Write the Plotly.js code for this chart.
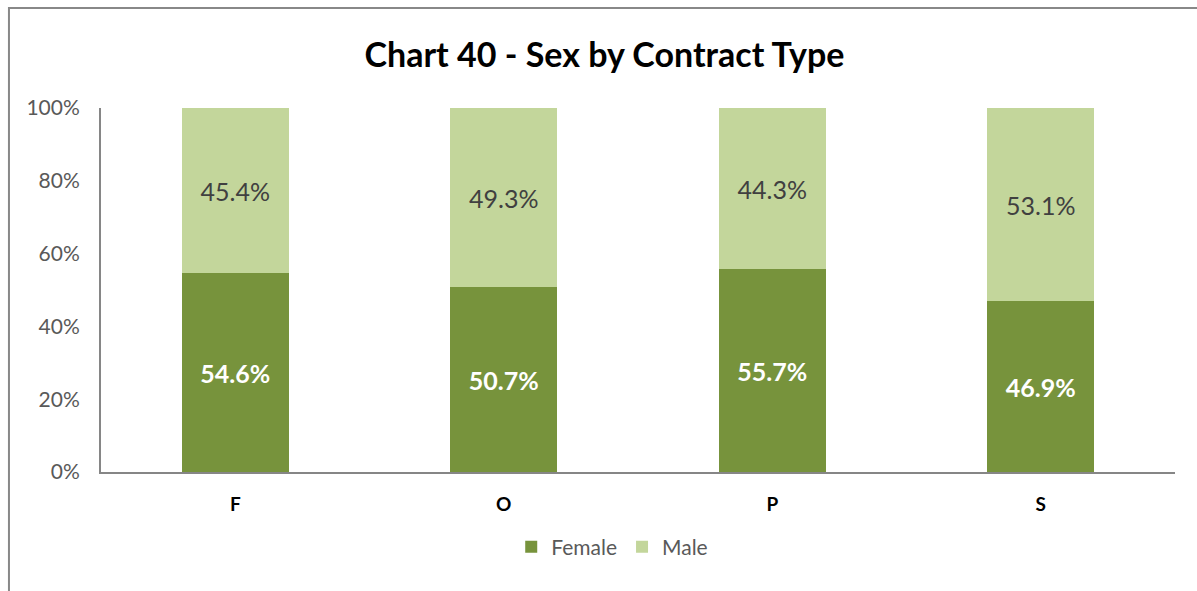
<!DOCTYPE html>
<html>
<head>
<meta charset="utf-8">
<script src="https://cdn.plot.ly/plotly-3.0.1.min.js"></script>
<style>html,body{margin:0;padding:0;background:#fff;}#chart{width:1197px;height:591px;}</style>
</head>
<body>
<div id="chart"></div>
<script>
const categories = ["F", "O", "P", "S"];
const female = [0.546, 0.507, 0.557, 0.469];
const male = [0.454, 0.493, 0.443, 0.531];
const seriesNames = ["Female", "Male"];
const yTickVals = [0, 0.2, 0.4, 0.6, 0.8, 1.0];
const yTickText = ["0%", "20%", "40%", "60%", "80%", "100%"];

const fontFam = "Lato, 'Open Sans', sans-serif";
const fmt = v => (v * 100).toFixed(1) + "%";

const traces = [
  {
    type: "bar", name: seriesNames[0], x: categories, y: female,
    marker: {color: "#77933C"}, width: 0.4,
    text: female.map(fmt), textposition: "inside", insidetextanchor: "middle",
    textfont: {family: fontFam, size: 25, color: "#ffffff", weight: "bold"},
    constraintext: "none", hoverinfo: "none"
  },
  {
    type: "bar", name: seriesNames[1], x: categories, y: male,
    marker: {color: "#C3D69B"}, width: 0.4,
    text: male.map(fmt), textposition: "inside", insidetextanchor: "middle",
    textfont: {family: fontFam, size: 25, color: "#404040"},
    constraintext: "none", hoverinfo: "none"
  }
];

const layout = {
  width: 1197, height: 591,
  margin: {l: 101, r: 22, t: 108, b: 119},
  paper_bgcolor: "#ffffff", plot_bgcolor: "#ffffff",
  barmode: "stack",
  showlegend: true,
  font: {family: fontFam},
  title: {
    text: "Chart 40 - Sex by Contract Type",
    font: {family: fontFam, size: 34, color: "#000000", weight: "bold"},
    x: 0.505, xanchor: "center", y: 0.907, yanchor: "middle", xref: "container", yref: "container"
  },
  xaxis: {
    type: "category", showgrid: false, zeroline: false,
    showline: true, linecolor: "#868686", linewidth: 2,
    ticks: "", tickfont: {family: fontFam, size: 19, color: "#000000", weight: "bold"},
    ticklabelstandoff: 14
  },
  yaxis: {
    range: [0, 1], tickvals: yTickVals, ticktext: yTickText,
    showgrid: false, zeroline: false,
    showline: true, linecolor: "#868686", linewidth: 2,
    ticks: "", tickfont: {family: fontFam, size: 21, color: "#595959"},
    ticklabelstandoff: 15
  },
  legend: {
    orientation: "h", x: 0.476, xanchor: "center", y: -0.206, yanchor: "middle",
    font: {family: fontFam, size: 21, color: "#595959"},
    traceorder: "normal", itemclick: false
  },
  shapes: [
    {
      type: "path", xref: "paper", yref: "paper",
      path: "M -0.0857 -0.4 L -0.0857 1.2747 L 1.05 1.2747",
      line: {color: "#888888", width: 2}
    }
  ]
};

Plotly.newPlot("chart", traces, layout, {displayModeBar: false, staticPlot: true});
</script>
</body>
</html>
